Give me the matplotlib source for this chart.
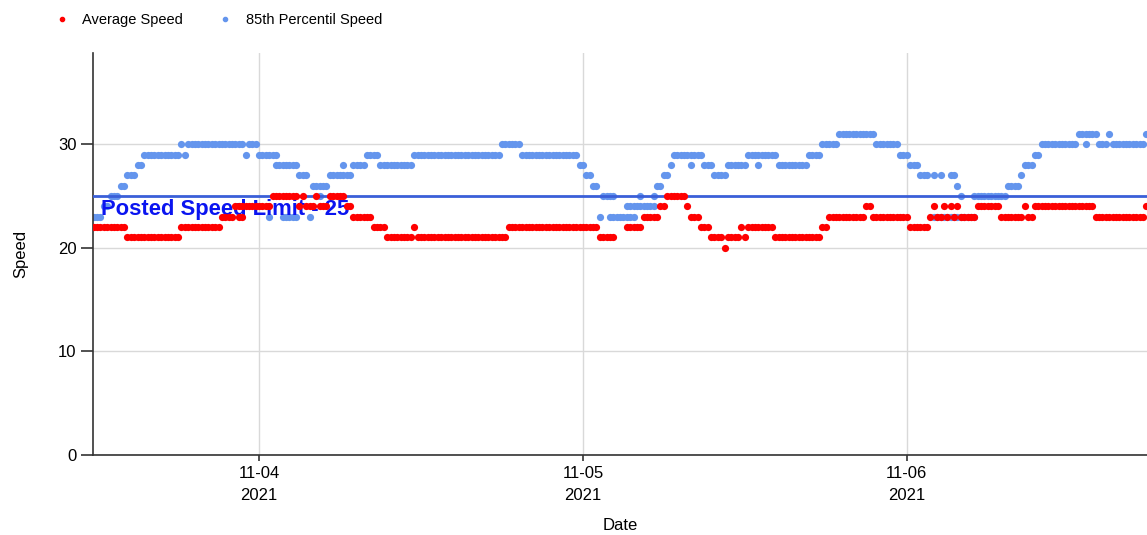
import numpy as np
import matplotlib
matplotlib.use("Agg")
import matplotlib.pyplot as plt
import matplotlib.dates as mdates
from matplotlib.lines import Line2D
from datetime import datetime, timedelta

# readings every 15 minutes, hours counted from 2021-11-03 12:00
# each entry: (first hour, last hour, speed)
avg_runs = [
    (-0.25, 2.0, 22), (2.25, 6.0, 21), (6.25, 9.0, 22), (9.25, 10.0, 23),
    (10.25, 11.0, 24), (10.5, 10.75, 23), (11.25, 12.75, 24), (13.0, 14.75, 25),
    (15.0, 15.0, 24), (15.25, 15.25, 25), (15.5, 16.0, 24), (16.25, 16.25, 25),
    (16.5, 17.0, 24), (17.25, 18.25, 25), (18.5, 18.75, 24), (19.0, 20.25, 23),
    (20.5, 21.25, 22), (21.5, 23.25, 21), (23.5, 23.5, 22), (23.75, 30.25, 21),
    (30.5, 37.0, 22), (37.25, 38.25, 21), (39.25, 40.25, 22), (40.5, 41.5, 23),
    (41.75, 42.0, 24), (42.25, 43.5, 25), (43.75, 43.75, 24), (44.0, 44.5, 23),
    (44.75, 45.25, 22), (45.5, 46.25, 21), (46.5, 46.5, 20), (46.75, 47.5, 21),
    (47.75, 47.75, 22), (48.0, 48.0, 21), (48.25, 50.0, 22), (50.25, 53.5, 21),
    (53.75, 54.0, 22), (54.25, 56.75, 23), (57.0, 57.25, 24), (57.5, 60.0, 23),
    (60.25, 61.5, 22), (61.75, 61.75, 23), (62.0, 62.0, 24), (62.25, 62.5, 23),
    (62.75, 62.75, 24), (63.0, 63.0, 23), (63.25, 63.25, 24), (63.5, 63.5, 23),
    (63.75, 63.75, 24), (64.0, 65.0, 23), (65.25, 66.75, 24), (67.0, 68.5, 23),
    (68.75, 68.75, 24), (69.0, 69.25, 23), (69.5, 73.75, 24), (74.0, 77.5, 23),
    (77.75, 77.75, 24),
]

p85_runs = [
    (-0.25, 0.25, 23), (0.5, 0.75, 24), (1.0, 1.5, 25), (1.75, 2.0, 26),
    (2.25, 2.75, 27), (3.0, 3.25, 28), (3.5, 6.0, 29), (6.25, 6.25, 30),
    (6.5, 6.5, 29), (6.75, 10.75, 30), (11.0, 11.0, 29), (11.25, 11.75, 30),
    (12.0, 13.25, 29), (13.25, 14.75, 28), (12.75, 12.75, 23), (13.75, 14.75, 23),
    (15.75, 15.75, 23), (15.0, 15.5, 27), (16.0, 17.0, 26), (16.5, 16.5, 25),
    (17.25, 18.75, 27), (18.25, 18.25, 28), (19.0, 19.75, 28), (20.0, 20.75, 29),
    (21.0, 23.25, 28), (23.5, 29.75, 29), (30.0, 31.25, 30), (31.5, 35.5, 29),
    (35.75, 36.0, 28), (36.25, 36.5, 27), (36.75, 37.0, 26), (37.25, 37.25, 23),
    (37.5, 38.25, 25), (38.0, 39.75, 23), (39.25, 41.25, 24), (40.25, 40.25, 25),
    (41.25, 41.25, 25), (41.5, 41.75, 26), (42.0, 42.25, 27), (42.5, 42.5, 28),
    (42.75, 44.75, 29), (44.0, 44.0, 28), (45.0, 45.5, 28), (45.75, 46.5, 27),
    (46.75, 48.0, 28), (48.25, 50.25, 29), (49.0, 49.0, 28), (50.5, 52.5, 28),
    (52.75, 53.5, 29), (53.75, 54.75, 30), (55.0, 57.5, 31), (57.75, 59.25, 30),
    (59.5, 60.0, 29), (60.25, 60.75, 28), (61.0, 61.5, 27), (62.0, 62.0, 27),
    (62.5, 62.5, 27), (63.25, 63.25, 27), (63.5, 63.5, 27), (63.75, 63.75, 26),
    (64.0, 64.0, 25), (62.0, 65.0, 23), (65.0, 67.25, 25), (67.5, 68.25, 26),
    (68.5, 68.5, 27), (68.75, 69.25, 28), (69.5, 69.75, 29), (70.0, 72.5, 30),
    (72.75, 74.0, 31), (73.25, 73.25, 30), (74.25, 74.75, 30), (75.0, 75.0, 31),
    (75.25, 77.5, 30), (77.75, 77.75, 31),
]

speed_limit = 25
start = datetime(2021, 11, 3, 12, 0)


def expand(runs):
    t, v = [], []
    for a, b, val in runs:
        for h in np.arange(a, b + 0.01, 0.25):
            t.append(start + timedelta(hours=float(h)))
            v.append(val)
    return t, v


avg_t, avg_v = expand(avg_runs)
p85_t, p85_v = expand(p85_runs)

plt.rcParams['font.family'] = ['Liberation Sans', 'DejaVu Sans']

fig = plt.figure(figsize=(11.47, 5.35), dpi=100)
ax = fig.add_axes([0.0811, 0.1495, 0.9189, 0.7515])

ax.scatter(p85_t, p85_v, s=27, color='#6495ED', linewidths=0, zorder=2)
ax.axhline(speed_limit, color='#3a5fd8', lw=2, zorder=3)
ax.text(0.008, 23.7, 'Posted Speed Limit - 25', transform=ax.get_yaxis_transform(),
        color='#0a14f0', fontsize=15.8, fontweight='bold', va='center', zorder=3)
ax.scatter(avg_t, avg_v, s=27, color='#FF0000', linewidths=0, zorder=4)

ax.set_xlim(start - timedelta(hours=0.3), start + timedelta(hours=77.8))
ax.set_ylim(0, 38.8)
ax.set_yticks([0, 10, 20, 30])
ax.xaxis.set_major_locator(mdates.DayLocator())
ax.xaxis.set_major_formatter(mdates.DateFormatter('%m-%d\n%Y'))

ax.grid(True, color='#d9d9d9', lw=1)
ax.set_axisbelow(True)
for s in ['top', 'right']:
    ax.spines[s].set_visible(False)
for s in ['left', 'bottom']:
    ax.spines[s].set_color('#333333')
    ax.spines[s].set_linewidth(1.2)
ax.tick_params(axis='y', length=9, width=1.2, color='#333333', labelsize=12, pad=3)
ax.tick_params(axis='x', length=4, width=1.2, color='#333333', labelsize=12, pad=4)
for lab in ax.get_xticklabels():
    lab.set_linespacing(1.55)
ax.set_xlabel('Date', fontsize=12, labelpad=11)
ax.set_ylabel('Speed', fontsize=12, labelpad=21)

handles = [
    Line2D([], [], ls='none', marker='o', ms=3, color='#FF0000', label='Average Speed'),
    Line2D([], [], ls='none', marker='o', ms=3, color='#6495ED', label='85th Percentil Speed'),
]
fig.legend(handles=handles, loc='upper left', bbox_to_anchor=(0.036, 1.0), ncol=2,
           frameon=False, fontsize=10.5, handletextpad=0.9, columnspacing=2.4,
           handlelength=1.0)

plt.savefig('out.png', dpi=100)
